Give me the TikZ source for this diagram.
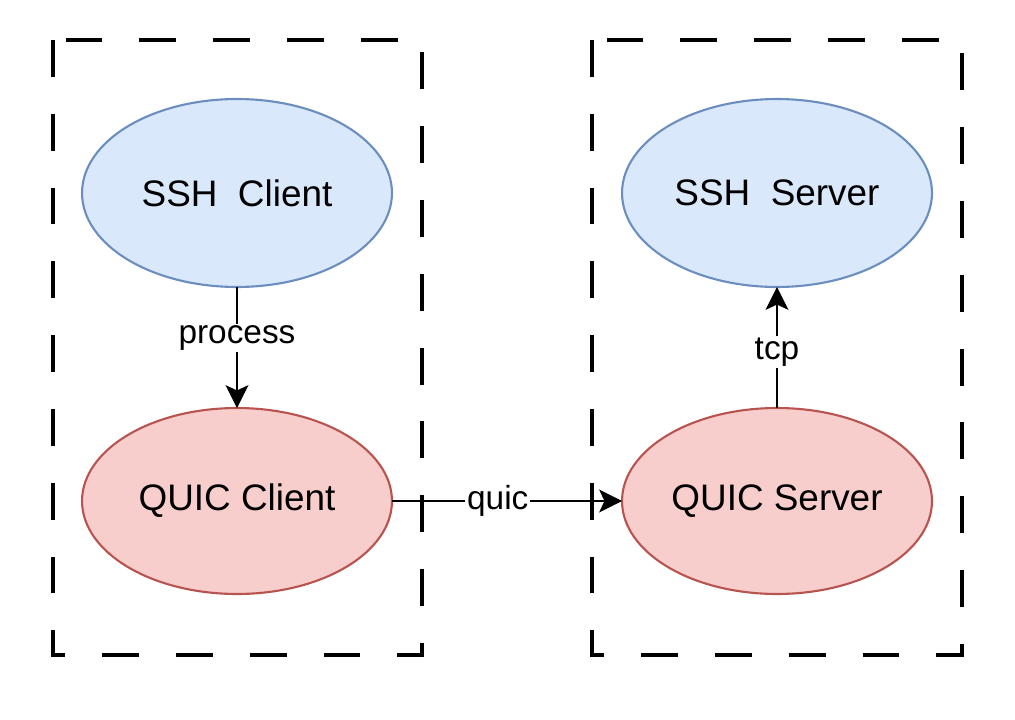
\documentclass[tikz,border=0pt]{standalone}
\usepackage{fontspec}
\setmainfont{Liberation Sans}
\usetikzlibrary{arrows.meta}
\usetikzlibrary{shapes.geometric}

\definecolor{sshfill}{HTML}{DAE8FC}
\definecolor{sshline}{HTML}{6C8EBF}
\definecolor{quicfill}{HTML}{F8CECC}
\definecolor{quicline}{HTML}{B85450}

\tikzset{
  hostbox/.style={line width=1.8pt, dash pattern=on 21pt off 21pt},
  sshnode/.style={ellipse, draw=sshline, fill=sshfill, line width=1.2pt,
    minimum width=6.2cm, minimum height=3.76cm, inner sep=0pt, outer sep=0pt,
    font=\fontsize{21}{25}\selectfont},
  quicnode/.style={ellipse, draw=quicline, fill=quicfill, line width=1.2pt,
    minimum width=6.2cm, minimum height=3.72cm, inner sep=0pt, outer sep=0pt,
    font=\fontsize{21}{25}\selectfont},
  link/.style={-{Stealth[length=13pt,width=13pt,inset=3pt]}, line width=1.2pt},
  linklabel/.style={fill=white, inner sep=1pt, font=\fontsize{19}{22}\selectfont}
}

\begin{document}
\begin{tikzpicture}[x=0.02cm, y=-0.02cm]
\useasboundingbox (0,0) rectangle (1015,720);

% Draw the client and server machines as dashed boxes
\draw[hostbox] (53,40) rectangle (422,655);
\draw[hostbox] (592,40) rectangle (962,655);

% Client side
\node[sshnode] (sshclient) at (237,193) {SSH\ \ Client};
\node[quicnode] (quicclient) at (237,501) {QUIC Client};

% Server side
\node[sshnode] (sshserver) at (777,193) {SSH\ \ Server};
\node[quicnode] (quicserver) at (777,501) {QUIC Server};

% Connections
\draw[link] (sshclient.south) -- node[linklabel, pos=0.42] {process} (quicclient.north);
\draw[link] (quicclient.east) -- node[linklabel, pos=0.46] {quic} (quicserver.west);
\draw[link] (quicserver.north) -- node[linklabel, pos=0.46] {tcp} (sshserver.south);

\end{tikzpicture}
\end{document}
